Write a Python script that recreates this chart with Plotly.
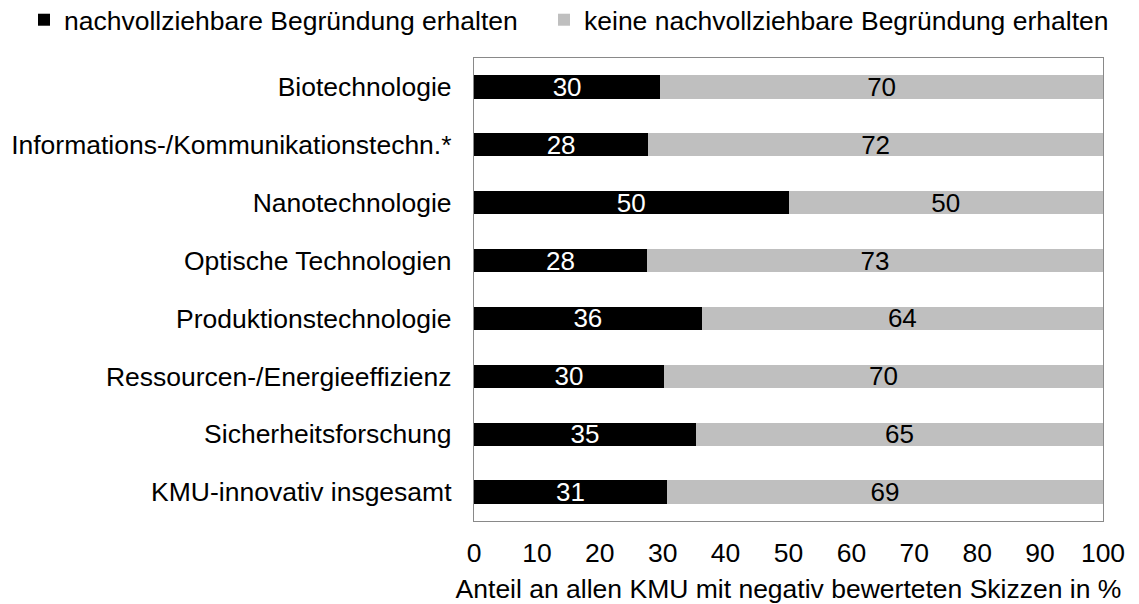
import plotly.graph_objects as go

categories = [
    "Biotechnologie",
    "Informations-/Kommunikationstechn.*",
    "Nanotechnologie",
    "Optische Technologien",
    "Produktionstechnologie",
    "Ressourcen-/Energieeffizienz",
    "Sicherheitsforschung",
    "KMU-innovativ insgesamt",
]
with_reason = [29.6, 27.7, 50.0, 27.5, 36.2, 30.2, 35.3, 30.7]
without_reason = [70.4, 72.3, 50.0, 72.5, 63.8, 69.8, 64.7, 69.3]
with_labels = ["30", "28", "50", "28", "36", "30", "35", "31"]
without_labels = ["70", "72", "50", "73", "64", "70", "65", "69"]
x_ticks = [0, 10, 20, 30, 40, 50, 60, 70, 80, 90, 100]

FONT = "Liberation Sans, Arial, sans-serif"
FS = 26.5
W, H = 1139, 604

fig = go.Figure()
fig.add_trace(go.Bar(
    y=categories, x=with_reason, orientation="h",
    name="nachvollziehbare Begründung erhalten", legend="legend",
    marker=dict(color="#000000", line=dict(width=0)),
    text=with_labels, textposition="inside", insidetextanchor="middle",
    constraintext="none", textangle=0,
    textfont=dict(color="white", size=26, family=FONT),
    width=0.4,
))
fig.add_trace(go.Bar(
    y=categories, x=without_reason, orientation="h",
    name="keine nachvollziehbare Begründung erhalten", legend="legend2",
    marker=dict(color="#BFBFBF", line=dict(width=0)),
    text=without_labels, textposition="inside", insidetextanchor="middle",
    constraintext="none", textangle=0,
    textfont=dict(color="black", size=26, family=FONT),
    width=0.4,
))

leg_common = dict(
    orientation="h", xref="container", yref="container",
    xanchor="left", yanchor="middle", y=1 - 20 / H,
    font=dict(size=FS), itemwidth=30, bgcolor="rgba(0,0,0,0)",
)

fig.update_layout(
    barmode="stack",
    width=W, height=H,
    margin=dict(l=474, r=36, t=58, b=83, autoexpand=False),
    paper_bgcolor="white", plot_bgcolor="white",
    font=dict(family=FONT, size=FS, color="black"),
    showlegend=True,
    legend=dict(x=24 / W, **leg_common),
    legend2=dict(x=544 / W, **leg_common),
)
fig.update_xaxes(
    range=[0, 100], tickvals=x_ticks, showgrid=False, zeroline=False,
    showline=True, linecolor="#898989", linewidth=1.3, mirror=True,
    ticks="", ticklabelstandoff=8, tickfont=dict(size=FS), automargin=False,
    title=dict(text="Anteil an allen KMU mit negativ bewerteten Skizzen in %",
               font=dict(size=FS), standoff=13),
)
fig.update_yaxes(
    autorange="reversed", showgrid=False, zeroline=False,
    showline=True, linecolor="#898989", linewidth=1.3, mirror=True,
    ticks="", ticklabelstandoff=16, tickfont=dict(size=FS), automargin=False,
)

fig.write_html("out.html", config={"displayModeBar": False},
               post_script="document.body.style.margin='0';document.body.style.overflow='hidden';")
